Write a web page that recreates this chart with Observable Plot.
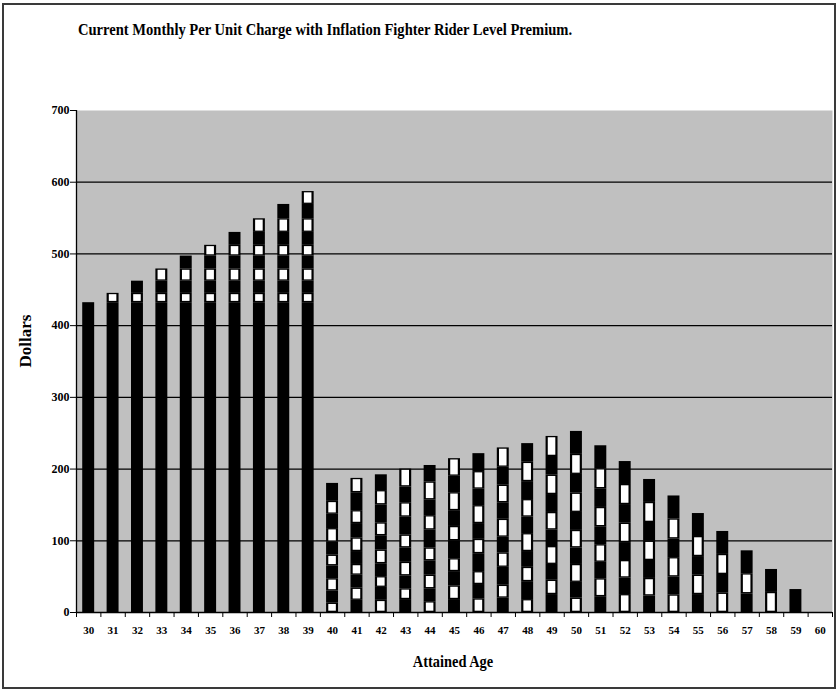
<!DOCTYPE html>
<html>
<head>
<meta charset="utf-8">
<script src="https://cdn.jsdelivr.net/npm/d3@7"></script>
<script src="https://cdn.jsdelivr.net/npm/@observablehq/plot@0.6"></script>
<style>
  body { margin: 0; background: #fff; }
  #wrap { position: relative; width: 838px; height: 692px; overflow: hidden; font-family: "Liberation Serif", "Times New Roman", serif; }
  #frame { position: absolute; left: 2px; top: 3px; width: 830px; height: 682px; border: 2px solid #3a3a3a; pointer-events: none; }
  #chart { position: absolute; left: 0; top: 0; }
  .lbl { position: absolute; font-weight: bold; white-space: nowrap; color: #000; }
  #title { left: 78px; top: 21px; font-size: 16px; line-height: 18px; transform: scaleX(0.91); transform-origin: left top; }
  #xlabel { left: 453px; top: 662px; font-size: 16px; transform: translate(-50%, -50%) scaleX(0.9); }
  #ylabel { left: 26px; top: 341px; font-size: 17px; transform: translate(-50%, -50%) rotate(-90deg); }
  #chart svg text { font-weight: bold; font-size: 12px !important; }
  #chart svg g[aria-label^="x-axis"] text { font-size: 11px !important; }
</style>
</head>
<body>
<div id="wrap">
  <div id="chart"></div>
  <div id="frame"></div>
  <div class="lbl" id="title">Current Monthly Per Unit Charge with Inflation Fighter Rider  Level Premium.</div>
  <div class="lbl" id="xlabel">Attained Age</div>
  <div class="lbl" id="ylabel">Dollars</div>
</div>
<script>
// Attained ages on the x axis
const ages = [30,31,32,33,34,35,36,37,38,39,40,41,42,43,44,45,46,47,48,49,50,51,52,53,54,55,56,57,58,59,60];
// Age at which each layer of coverage is bought (30 = base, 31..50 = yearly rider increases)
const purchaseAges = [30,31,32,33,34,35,36,37,38,39,40,41,42,43,44,45,46,47,48,49,50];
// Monthly level charge of each layer (dollars)
const layerCharges = [432,13,17,17,18,15,18,19,20,18,25,20,22,25,23,24.5,25,27,26,28,32];
// Number of years each layer stays in force
const layerTerm = 10;
// y axis ticks
const yTicks = [0,100,200,300,400,500,600,700];

// Build stacked segments per age
const segments = [];
for (const age of ages) {
  let base = 0;
  purchaseAges.forEach((p, i) => {
    if (age >= p && age < p + layerTerm) {
      segments.push({age, y1: base, y2: base + layerCharges[i], white: (p - purchaseAges[0]) % 2 === 1});
      base += layerCharges[i];
    }
  });
}
const boundaries = [...ages.map(a => a - 0.5), ages[ages.length - 1] + 0.5];
const half = 0.245;

const chart = Plot.plot({
  width: 838,
  height: 692,
  marginLeft: 76,
  marginRight: 6,
  marginTop: 110,
  marginBottom: 80,
  x: {domain: [ages[0] - 0.5, ages[ages.length - 1] + 0.5]},
  y: {domain: [0, 700]},
  style: {fontFamily: "'Liberation Serif', serif", fontWeight: "bold", fontSize: "12px", background: "transparent", color: "black", overflow: "visible"},
  marks: [
    Plot.frame({fill: "#c0c0c0", stroke: null}),
    Plot.ruleY(yTicks.filter(t => t > 0 && t < 700), {stroke: "black", strokeWidth: 1.3}),
    Plot.rectY(segments, {x1: d => d.age - half, x2: d => d.age + half, y1: "y1", y2: "y2", fill: "black"}),
    Plot.rectY(segments.filter(d => d.white), {x1: d => d.age - half, x2: d => d.age + half, y1: "y1", y2: "y2", fill: "white", insetLeft: 2.2, insetRight: 2.2, insetTop: 1.3, insetBottom: 1.3}),
    Plot.ruleX([ages[0] - 0.5], {stroke: "black", strokeWidth: 1.3}),
    Plot.ruleY([0], {stroke: "black", strokeWidth: 1.3}),
    Plot.axisY({ticks: yTicks, tickSize: 6, tickPadding: 1, label: null}),
    Plot.axisX({ticks: boundaries, tickSize: 5, tickFormat: () => "", label: null}),
    Plot.axisX({ticks: ages, tickSize: 0, tickPadding: 14, label: null})
  ]
});
document.getElementById("chart").appendChild(chart);
</script>
</body>
</html>
